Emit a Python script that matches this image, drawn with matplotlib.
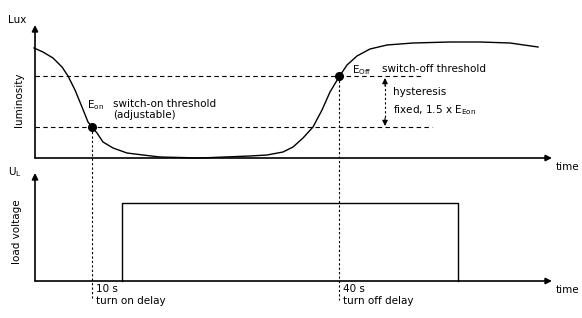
import matplotlib.pyplot as plt

plt.rcParams['font.family'] = ['DejaVu Sans']
plt.rcParams['mathtext.fontset'] = 'dejavusans'

# diagram is laid out in picture units (x to the right, y downward)
curve_x = [34, 43, 53, 62, 68, 75, 82, 88, 92, 97, 103, 113, 127, 143, 160, 200,
           250, 267, 283, 293, 303, 313, 322, 330, 339, 347, 357, 370, 387, 413,
           450, 480, 510, 538]
curve_y = [48, 52, 58, 67, 76, 90, 107, 122, 127, 133, 142, 148, 153, 155, 157, 158,
           156, 155, 152, 147, 138, 127, 110, 92, 77, 65, 56, 49, 45, 43,
           42, 42, 43, 47]

e_off_level = 76
e_on_level = 127
t_on = 92        # switch-on threshold crossing
t_off = 339      # switch-off threshold crossing
pulse_start = 122
pulse_end = 458
pulse_high = 203

axis_x0 = 35
axis_x1 = 552
top_base = 158
top_tip = 25
bot_base = 281
bot_tip = 173

fig = plt.figure(figsize=(5.82, 3.18), dpi=100)
ax = fig.add_axes([0, 0, 1, 1])
ax.set_xlim(0, 582)
ax.set_ylim(318, 0)
ax.axis('off')

fs = 7.5
lw = 1.0
arrow = dict(arrowstyle='-|>', color='black', lw=1.2, mutation_scale=9,
             shrinkA=0, shrinkB=0)

# axes with arrows
ax.annotate('', xy=(axis_x0, top_tip), xytext=(axis_x0, top_base), arrowprops=arrow)
ax.annotate('', xy=(axis_x1, top_base), xytext=(axis_x0, top_base), arrowprops=arrow)
ax.annotate('', xy=(axis_x0, bot_tip), xytext=(axis_x0, bot_base), arrowprops=arrow)
ax.annotate('', xy=(axis_x1, bot_base), xytext=(axis_x0, bot_base), arrowprops=arrow)

# luminosity curve
ax.plot(curve_x, curve_y, color='black', lw=lw)

# thresholds
ax.plot([axis_x0, 423], [e_off_level, e_off_level], color='black', lw=0.8, ls=(0, (4, 3)))
ax.plot([axis_x0, 432], [e_on_level, e_on_level], color='black', lw=0.8, ls=(0, (4, 3)))
ax.plot([t_on], [e_on_level], 'o', color='black', ms=5.5)
ax.plot([t_off], [e_off_level], 'o', color='black', ms=5.5)

# delay markers
ax.plot([t_on, t_on], [e_on_level, 300], color='black', lw=0.8, ls=(0, (2, 2)))
ax.plot([t_off, t_off], [e_off_level, 300], color='black', lw=0.8, ls=(0, (2, 2)))

# hysteresis arrow
hx = 385
ax.plot([hx, hx], [84, 119], color='black', lw=0.8, ls=(0, (2, 2)))
ax.annotate('', xy=(hx, 78), xytext=(hx, 86),
            arrowprops=dict(arrowstyle='-|>', color='black', lw=0.8, mutation_scale=8,
                            shrinkA=0, shrinkB=0))
ax.annotate('', xy=(hx, 126), xytext=(hx, 118),
            arrowprops=dict(arrowstyle='-|>', color='black', lw=0.8, mutation_scale=8,
                            shrinkA=0, shrinkB=0))

# load voltage pulse
ax.plot([pulse_start, pulse_start, pulse_end, pulse_end],
        [bot_base, pulse_high, pulse_high, bot_base], color='black', lw=lw)

# labels
ax.text(8, 20, 'Lux', fontsize=fs, va='center', ha='left')
ax.text(8, 172, r'U$_\mathregular{L}$', fontsize=fs, va='center', ha='left')
ax.text(19, 100, 'luminosity', fontsize=fs, rotation=90, va='center', ha='center')
ax.text(17, 232, 'load voltage', fontsize=fs, rotation=90, va='center', ha='center')
ax.text(556, 167, 'time', fontsize=fs, va='center', ha='left')
ax.text(556, 290, 'time', fontsize=fs, va='center', ha='left')

ax.text(87, 105, r'E$_\mathregular{on}$', fontsize=fs, va='center', ha='left')
ax.text(113, 104, 'switch-on threshold', fontsize=fs, va='center', ha='left')
ax.text(113, 115, '(adjustable)', fontsize=fs, va='center', ha='left')

ax.text(352, 70, r'E$_\mathregular{Off}$', fontsize=fs, va='center', ha='left')
ax.text(382, 69, 'switch-off threshold', fontsize=fs, va='center', ha='left')

ax.text(393, 92, 'hysteresis', fontsize=fs, va='center', ha='left')
ax.text(393, 110, r'fixed, 1.5 x E$_\mathregular{Eon}$', fontsize=fs, va='center', ha='left')

ax.text(96, 289, '10 s', fontsize=fs, va='center', ha='left')
ax.text(96, 301, 'turn on delay', fontsize=fs, va='center', ha='left')
ax.text(343, 289, '40 s', fontsize=fs, va='center', ha='left')
ax.text(343, 301, 'turn off delay', fontsize=fs, va='center', ha='left')

fig.savefig('out.png', dpi=100)
